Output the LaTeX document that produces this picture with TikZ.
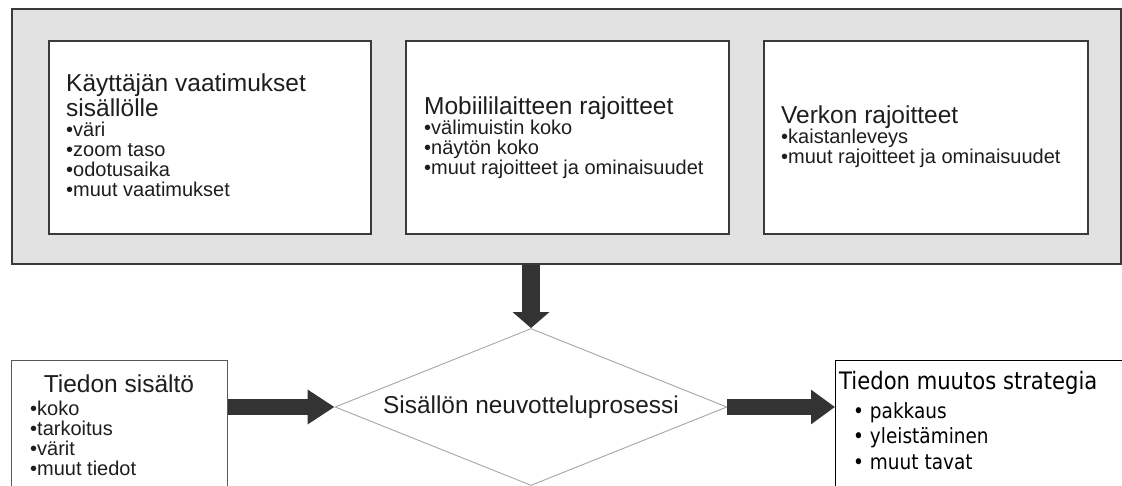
\documentclass[tikz,border=0pt]{standalone}
\usepackage{fontspec}
\setmainfont{Liberation Sans}
\newfontfamily\screenfont[FakeStretch=0.88]{DejaVu Sans}
\usetikzlibrary{shapes.geometric,arrows.meta}

\definecolor{panelgray}{HTML}{E2E2E2}
\definecolor{arrowdark}{HTML}{333333}
\definecolor{edgedark}{HTML}{3A3A3A}
\definecolor{rhombusgray}{HTML}{A8A8A8}
\definecolor{inkdark}{HTML}{1E1E1E}

% a block of lines whose first baseline is the node's base
\newcommand\linesblock[2]{\vtop{\hsize=#1\parindent=0pt\raggedright #2\par}}
\newcommand\boxhead{\fontsize{24.5}{25}\selectfont}
\newcommand\boxitem{\fontsize{20}{20}\selectfont}

\begin{document}
\begin{tikzpicture}[x=1pt,y=-1pt,
  panel/.style={draw=edgedark, line width=1.6pt, fill=panelgray, anchor=north west, inner sep=0pt},
  whitebox/.style={draw=edgedark, line width=1.6pt, fill=white, anchor=north west, inner sep=0pt,
                   minimum height=193pt},
  plainbox/.style={draw=#1, line width=1pt, fill=white, anchor=north west, inner sep=0pt,
                   minimum height=170pt},
  rhombus/.style={shape=diamond, draw=rhombusgray, line width=0.9pt, inner sep=0pt, aspect=2.5,
                  minimum width=392pt, minimum height=157pt, text=inkdark},
  textblock/.style={anchor=base west, inner sep=0pt, text=inkdark},
  flowarrow/.style={draw=arrowdark, line width=#1, line cap=butt},
]
\useasboundingbox (0,0) rectangle (1122,486);
\clip (0,0) rectangle (1122,486);

% upper panel with the three constraint groups
\node[panel, minimum width=1109pt, minimum height=255pt] (top) at (11,8) {};
\node[whitebox, minimum width=322pt] (user) at (48,40) {};
\node[whitebox, minimum width=323pt] (device) at (405,40) {};
\node[whitebox, minimum width=324pt] (network) at (763,40) {};

\node[textblock] (usertext) at (66,92) {\linesblock{300pt}{\boxhead Käyttäjän vaatimukset\\sisällölle\par
  \boxitem •väri\\•zoom taso\\•odotusaika\\•muut vaatimukset}};
\node[textblock] (devicetext) at (424,115) {\linesblock{300pt}{\boxhead Mobiililaitteen rajoitteet\par
  \boxitem •välimuistin koko\\•näytön koko\\•muut rajoitteet ja ominaisuudet}};
\node[textblock] (networktext) at (781,124) {\linesblock{300pt}{\boxhead Verkon rajoitteet\par
  \boxitem •kaistanleveys\\•muut rajoitteet ja ominaisuudet}};

% negotiation process
\node[rhombus, font=\fontsize{24.4}{25}\selectfont] (nego) at (531,407) {Sisällön neuvotteluprosessi};

% input and output boxes
\node[plainbox=black!65, minimum width=216pt] (content) at (11,360) {};
\node[plainbox=black, minimum width=290pt] (strategy) at (835,360) {};

\node[anchor=base, inner sep=0pt, text=inkdark] (contenthead) at (119,392) {\boxhead Tiedon sisältö};
\node[textblock] (contentitems) at (30,415) {\linesblock{190pt}{\boxitem •koko\\•tarkoitus\\•värit\\•muut tiedot}};

\node[textblock, text=black] (strategyhead) at (839,389) {\screenfont\fontsize{24}{25}\selectfont Tiedon muutos strategia};
\node[textblock, text=black] (strategyitems) at (853,418) {\linesblock{250pt}{\screenfont\fontsize{21}{25.5}\selectfont
  • pakkaus\\• yleistäminen\\• muut tavat}};

% block arrows
\draw[flowarrow=18pt, -{Triangle[width=36pt,length=16pt]}] (top.south -| nego.north) -- (nego.north);
\draw[flowarrow=16pt, -{Triangle[width=33pt,length=27pt]}] (content.east |- nego.west) -- (nego.west);
\draw[flowarrow=16pt, -{Triangle[width=33pt,length=24pt]}] (nego.east) -- (strategy.west |- nego.east);
\end{tikzpicture}
\end{document}
